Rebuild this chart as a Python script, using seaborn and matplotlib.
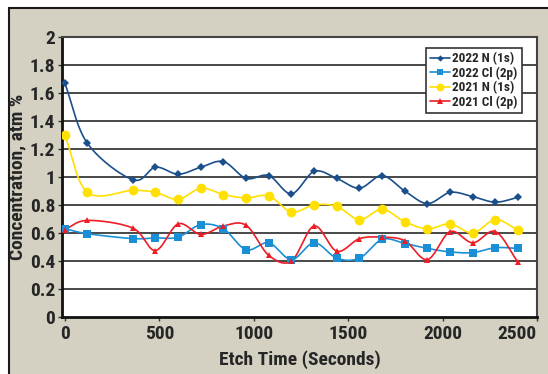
import numpy as np
import pandas as pd
import matplotlib
matplotlib.use("Agg")
import matplotlib.pyplot as plt
import seaborn as sns
from matplotlib.patches import Rectangle
from matplotlib import font_manager

# DATI

etch_time = [0, 120, 360, 480, 600, 720, 840, 960, 1080, 1200,
             1320, 1440, 1560, 1680, 1800, 1920, 2040, 2160, 2280, 2400]

n_2022 = [1.67, 1.24, 0.98, 1.07, 1.02, 1.07, 1.11, 0.99, 1.01, 0.88,
          1.04, 0.99, 0.92, 1.01, 0.90, 0.81, 0.89, 0.86, 0.82, 0.855]
cl_2022 = [0.63, 0.595, 0.56, 0.565, 0.57, 0.66, 0.63, 0.48, 0.53, 0.41,
           0.53, 0.42, 0.42, 0.555, 0.525, 0.49, 0.465, 0.46, 0.495, 0.49]
n_2021 = [1.30, 0.89, 0.905, 0.89, 0.84, 0.92, 0.875, 0.85, 0.865, 0.75,
          0.80, 0.79, 0.695, 0.77, 0.68, 0.63, 0.665, 0.60, 0.695, 0.62]
cl_2021 = [0.625, 0.69, 0.635, 0.475, 0.665, 0.59, 0.65, 0.655, 0.44, 0.40,
           0.65, 0.47, 0.56, 0.57, 0.545, 0.41, 0.61, 0.53, 0.61, 0.39]

serie = ["2022 N (1s)", "2022 Cl (2p)", "2021 N (1s)", "2021 Cl (2p)"]
valori = [n_2022, cl_2022, n_2021, cl_2021]
colori = ["#1b4f8c", "#1a8fd6", "#ffe000", "#ee1c25"]
marker = ["D", "s", "o", "^"]
dim_marker = [4, 6, 7, 5]

df = pd.DataFrame({
    "tempo": etch_time * 4,
    "valore": n_2022 + cl_2022 + n_2021 + cl_2021,
    "serie": np.repeat(serie, len(etch_time))
})


# linea smussata tipo Excel (Catmull-Rom)
def smussa(x, y, n=20):
    x = np.asarray(x, float)
    y = np.asarray(y, float)
    px = np.concatenate([[2 * x[0] - x[1]], x, [2 * x[-1] - x[-2]]])
    py = np.concatenate([[2 * y[0] - y[1]], y, [2 * y[-1] - y[-2]]])
    xs, ys = [], []
    t = np.linspace(0, 1, n, endpoint=False)
    for i in range(1, len(px) - 2):
        for p, out in ((px, xs), (py, ys)):
            p0, p1, p2, p3 = p[i - 1], p[i], p[i + 1], p[i + 2]
            out.extend(0.5 * ((2 * p1) + (-p0 + p2) * t
                              + (2 * p0 - 5 * p1 + 4 * p2 - p3) * t ** 2
                              + (-p0 + 3 * p1 - 3 * p2 + p3) * t ** 3))
    xs.append(x[-1])
    ys.append(y[-1])
    return np.array(xs), np.array(ys)


# FONT stretto, se c'è
installati = {f.name for f in font_manager.fontManager.ttflist}
stretto = "DejaVu Sans"
condensato = False
for nome in ["Liberation Sans Narrow", "DejaVu Sans Condensed", "Roboto Condensed",
             "Open Sans Condensed", "Noto Sans Condensed"]:
    if nome in installati:
        stretto = nome
        break
else:
    condensato = True

# STILE

sns.set_theme(style="white")
plt.rcParams["font.family"] = [stretto, "DejaVu Sans"]
plt.rcParams["font.weight"] = "bold"
if condensato:
    plt.rcParams["font.stretch"] = "condensed"

fs = 14
beige = "#d4d1c2"

fig = plt.figure(figsize=(5.48, 3.74), dpi=100)
fig.patch.set_facecolor("white")
fig.patches.append(Rectangle((8.5 / 548, -0.01), 1.0, 1 - 7.5 / 374 + 0.01,
                             transform=fig.transFigure, facecolor=beige,
                             edgecolor="#1a1a1a", linewidth=1.5, zorder=-5))

ax = fig.add_axes([62 / 548, 1 - 317 / 374, 475 / 548, 280 / 374])
ax.set_facecolor("white")

for y in np.arange(0.2, 2.0, 0.2):
    ax.axhline(y, color="#2a2a2a", linewidth=1.2, zorder=1)

for nome, vals, col in zip(serie, valori, colori):
    xs, ys = smussa(etch_time, vals)
    ax.plot(xs, ys, color=col, linewidth=1.2, zorder=3)

sns.lineplot(data=df, x="tempo", y="valore", hue="serie", style="serie",
             palette=dict(zip(serie, colori)),
             markers=dict(zip(serie, marker)), dashes=False,
             linewidth=0, ax=ax, legend=False, zorder=4,
             markeredgewidth=0)
for linea, ms in zip(ax.lines[-4:], dim_marker):
    linea.set_markersize(ms)

# legenda
handles = [plt.Line2D([], [], color=c, marker=m, markersize=s * 0.8,
                      markeredgewidth=0, linewidth=1.2)
           for c, m, s in zip(colori, marker, dim_marker)]
leg = ax.legend(handles, serie, loc="upper right",
                bbox_to_anchor=(0.968, 0.96), frameon=True, fancybox=False,
                edgecolor="#333333", framealpha=1, fontsize=9.5,
                handlelength=1.5, handletextpad=0.2, borderpad=0.3,
                labelspacing=0.1, borderaxespad=0)
leg.get_frame().set_linewidth(1.2)

ax.set_xlim(-15, 2500)
ax.set_ylim(0, 2)
ax.set_xticks([0, 500, 1000, 1500, 2000, 2500])
ax.set_yticks(np.arange(0, 2.01, 0.2))
ax.set_yticklabels(["0", "0.2", "0.4", "0.6", "0.8", "1", "1.2", "1.4",
                    "1.6", "1.8", "2"])
ax.tick_params(axis="both", labelsize=fs, length=3, width=1,
               color="#333333", direction="out", pad=2)
ax.tick_params(axis="x", pad=3)
ax.tick_params(axis="y", left=True)
ax.tick_params(axis="x", bottom=True)
# l'ultima etichetta resta dentro il bordo
ax.get_xticklabels()[-1].set_horizontalalignment("right")
ax.get_xticklabels()[-1].set_x(2540)

ax.set_xlabel("Etch Time (Seconds)", fontsize=fs, fontweight="bold", labelpad=5)
ax.set_ylabel("Concentration, atm %", fontsize=fs, fontweight="bold", labelpad=2)

for lato in ["left", "bottom"]:
    ax.spines[lato].set_color("#111111")
    ax.spines[lato].set_linewidth(2)
for lato in ["top", "right"]:
    ax.spines[lato].set_color("#444444")
    ax.spines[lato].set_linewidth(1.5)

plt.savefig("out.png", dpi=100, facecolor=fig.get_facecolor())
plt.close()
